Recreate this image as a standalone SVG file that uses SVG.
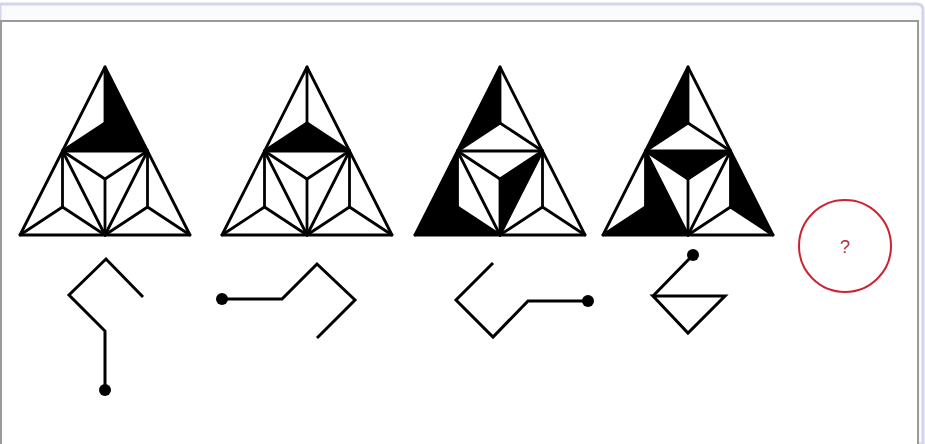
<svg xmlns="http://www.w3.org/2000/svg" xmlns:xlink="http://www.w3.org/1999/xlink" width="925" height="444" viewBox="0 0 925 444">
<style>
.grid{fill:none;stroke:#000;stroke-width:2.8;stroke-linejoin:round;stroke-linecap:round}
.blk{fill:#000;stroke:none}
.path{fill:none;stroke:#000;stroke-width:3;stroke-linejoin:miter;stroke-linecap:butt}
.dot{fill:#000}
</style>
<defs>
<g id="grid" class="grid">
<polygon points="0,67 -85,235 85,235"/>
<line x1="-42.5" y1="151" x2="42.5" y2="151"/>
<line x1="-42.5" y1="151" x2="0" y2="235"/>
<line x1="42.5" y1="151" x2="0" y2="235"/>
<polyline points="0,67 0,123"/>
<line x1="0" y1="123" x2="-42.5" y2="151"/>
<line x1="0" y1="123" x2="42.5" y2="151"/>
<line x1="-42.5" y1="207" x2="-42.5" y2="151"/>
<line x1="-42.5" y1="207" x2="-85" y2="235"/>
<line x1="-42.5" y1="207" x2="0" y2="235"/>
<line x1="42.5" y1="207" x2="42.5" y2="151"/>
<line x1="42.5" y1="207" x2="85" y2="235"/>
<line x1="42.5" y1="207" x2="0" y2="235"/>
<line x1="0" y1="179" x2="-42.5" y2="151"/>
<line x1="0" y1="179" x2="42.5" y2="151"/>
<line x1="0" y1="179" x2="0" y2="235"/>
</g>
</defs>
<rect x="0" y="0" width="925" height="444" fill="#ffffff"/>
<path d="M0,4 H917 Q923,4 923,10 V444 H0 Z" fill="#fafbfd" stroke="#d4d4ec" stroke-width="3"/>
<rect x="1" y="21" width="917" height="430" fill="#ffffff" stroke="#9a9a9a" stroke-width="2"/>

<g id="tri1" transform="translate(105,0)">
<polygon class="blk" points="0,67 42.5,151 0,123"/>
<polygon class="blk" points="-42.5,151 42.5,151 0,123"/>
<use xlink:href="#grid"/>
</g>
<g id="tri2" transform="translate(307,0)">
<polygon class="blk" points="-42.5,151 42.5,151 0,123"/>
<use xlink:href="#grid"/>
</g>
<g id="tri3" transform="translate(500,0)">
<polygon class="blk" points="0,67 -42.5,151 0,123"/>
<polygon class="blk" points="-42.5,151 -85,235 -42.5,207"/>
<polygon class="blk" points="-85,235 0,235 -42.5,207"/>
<polygon class="blk" points="42.5,151 0,235 0,179"/>
<use xlink:href="#grid"/>
</g>
<g id="tri4" transform="translate(688,0)">
<polygon class="blk" points="0,67 -42.5,151 0,123"/>
<polygon class="blk" points="-42.5,151 42.5,151 0,179"/>
<polygon class="blk" points="-42.5,151 0,235 -42.5,207"/>
<polygon class="blk" points="-85,235 0,235 -42.5,207"/>
<polygon class="blk" points="42.5,151 85,235 42.5,207"/>
<use xlink:href="#grid"/>
</g>

<g id="fig1">
<polyline class="path" points="143,297 106,259 69,295 105,331 105,390"/>
<circle class="dot" cx="105" cy="390" r="6"/>
</g>
<g id="fig2">
<polyline class="path" points="222,299 282,299 317,264 355,300 317,338"/>
<circle class="dot" cx="222" cy="299" r="6"/>
</g>
<g id="fig3">
<polyline class="path" points="493,263 456,300 493,337 528,301 588,301"/>
<circle class="dot" cx="588" cy="301" r="6"/>
</g>
<g id="fig4">
<polyline class="path" points="693,255 653,296"/>
<polygon class="path" points="653,296 725,296 688,333"/>
<circle class="dot" cx="693" cy="255" r="6"/>
</g>

<g id="answer">
<circle cx="845" cy="246" r="46" fill="none" stroke="#cc2233" stroke-width="2"/>
<text x="845" y="253" text-anchor="middle" font-family="Liberation Sans, Arial, sans-serif" font-size="18" fill="#b0303c">?</text>
</g>
</svg>
